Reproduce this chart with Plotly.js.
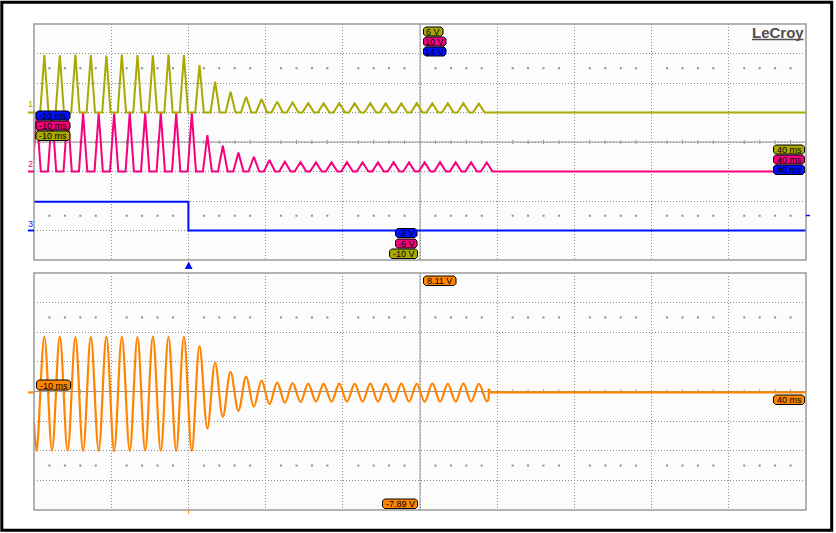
<!DOCTYPE html>
<html>
<head>
<meta charset="utf-8">
<script src="https://cdn.plot.ly/plotly-3.0.1.min.js"></script>
<style>html,body{margin:0;padding:0;background:#fff;}#chart{width:836px;height:533px;}</style>
</head>
<body>
<div id="chart"></div>
<script>
// ---------------- data (time in ms, values in V) ----------------
// Channel 1 (olive): peak times and peak voltages of each positive hump
const ch1PeakT = [-9.33,-8.33,-7.32,-6.32,-5.31,-4.31,-3.30,-2.30,-1.29,-0.29,0.72,1.73,2.73,3.74,4.74,5.75,6.75,7.76,8.76,9.77,10.77,11.78,12.78,13.79,14.79,15.80,16.80,17.81,18.81];
const ch1PeakV = [3.90,3.88,3.92,3.90,3.86,3.92,3.90,3.88,3.92,3.90,3.22,2.09,1.41,1.07,0.90,0.74,0.68,0.63,0.62,0.63,0.62,0.63,0.62,0.62,0.63,0.62,0.62,0.63,0.60];
const ch1HalfW = [0.27,0.27,0.27,0.27,0.27,0.27,0.27,0.27,0.27,0.27,0.28,0.30,0.32,0.34,0.36,0.37,0.38,0.38,0.38,0.38,0.38,0.38,0.38,0.38,0.38,0.38,0.38,0.38,0.38];
// Channel 2 (pink)
const ch2PeakT = [-9.83,-8.83,-7.82,-6.82,-5.81,-4.81,-3.80,-2.80,-1.79,-0.79,0.22,1.23,2.23,3.24,4.24,5.25,6.25,7.26,8.26,9.27,10.27,11.28,12.28,13.29,14.29,15.30,16.30,17.31,18.31,19.32];
const ch2PeakV = [3.95,3.93,3.96,3.94,3.95,3.93,3.96,3.94,3.95,3.93,3.95,2.47,1.75,1.28,1.00,0.78,0.66,0.63,0.62,0.62,0.63,0.62,0.62,0.63,0.62,0.62,0.63,0.62,0.62,0.61];
const ch2HalfW = [0.27,0.27,0.27,0.27,0.27,0.27,0.27,0.27,0.27,0.27,0.27,0.29,0.31,0.33,0.35,0.36,0.37,0.38,0.38,0.38,0.38,0.38,0.38,0.38,0.38,0.38,0.38,0.38,0.38,0.38];
// Channel 3 (blue): logic step at trigger
const ch3T = [-10, 0, 0, 40];
const ch3V = [1.95, 1.95, 0, 0];
// Math trace (orange): extrema of the oscillation, then the flat tail
const mathT = [-10,-9.83,-9.33,-8.83,-8.33,-7.82,-7.32,-6.82,-6.32,-5.81,-5.31,-4.81,-4.31,-3.80,-3.30,-2.80,-2.30,-1.79,-1.29,-0.79,-0.29,0.22,0.72,1.23,1.73,2.23,2.73,3.24,3.74,4.24,4.74,5.25,5.75,6.25,6.75,7.26,7.76,8.26,8.76,9.27,9.77,10.27,10.77,11.28,11.78,12.28,12.78,13.29,13.79,14.29,14.79,15.30,15.80,16.30,16.80,17.31,17.81,18.31,18.81,19.32,19.45];
const mathV = [-2.0,-3.90,3.80,-3.88,3.82,-3.90,3.78,-3.90,3.80,-3.88,3.82,-3.90,3.80,-3.90,3.78,-3.88,3.82,-3.90,3.80,-3.90,3.80,-3.88,3.18,-2.38,2.05,-1.59,1.43,-1.19,1.11,-0.92,0.84,-0.74,0.71,-0.65,0.67,-0.60,0.64,-0.58,0.63,-0.58,0.64,-0.58,0.63,-0.58,0.64,-0.58,0.63,-0.58,0.64,-0.58,0.63,-0.58,0.64,-0.58,0.63,-0.58,0.64,-0.58,0.63,-0.55,-0.42];
const mathTailT = [19.45, 19.45, 19.55, 40];
const mathTailV = [-0.42, 0.30, 0.05, 0.05];
// Scale labels
const timeLeft = '-10 ms', timeRight = '40 ms';
const ch1Range = [-10, 6], ch2Range = [-6, 10], ch3Range = [-2, 14], mathRange = [-7.89, 8.11];

// ---------------- helpers ----------------
const L = 34, R = 806, T = 24, B = 510;
const px = x => (x - L) / (R - L);
const py = y => (B - y) / (B - T);

function humps(ts, vs, ws) {
  const x = [], y = [];
  if (ts[0] - ws[0] > -10) { x.push(-10); y.push(0); }
  for (let i = 0; i < ts.length; i++) {
    x.push(ts[i] - ws[i], ts[i], ts[i] + ws[i]);
    y.push(0, vs[i], 0);
  }
  x.push(40); y.push(0);
  return {x, y};
}

const OLIVE = '#a9a900', PINK = '#f5007d', BLUE = '#0010ff', ORANGE = '#ff8400';
const h1 = humps(ch1PeakT, ch1PeakV, ch1HalfW);
const h2 = humps(ch2PeakT, ch2PeakV, ch2HalfW);

// grid dot rows (at +/-2.5 div from centre) and centre-line ticks
const dotT = [];
for (let t = -10; t <= 40; t += 1) { if (((t + 10) % 5) !== 0) dotT.push(t); }
const upDotX = [], upDotY = [], loDotX = [], loDotY = [];
const upC = (ch1Range[0] + ch1Range[1]) / 2, loC = (mathRange[0] + mathRange[1]) / 2;
dotT.forEach(t => {
  upDotX.push(t, t); upDotY.push(upC + 5, upC - 5);
  loDotX.push(t, t); loDotY.push(loC + 5, loC - 5);
});

const traces = [
  {x: upDotX, y: upDotY, xaxis: 'x', yaxis: 'y', mode: 'markers', marker: {size: 2, color: '#8c8c8c', symbol: 'square'}, hoverinfo: 'skip'},
  {x: loDotX, y: loDotY, xaxis: 'x2', yaxis: 'y4', mode: 'markers', marker: {size: 2, color: '#8c8c8c', symbol: 'square'}, hoverinfo: 'skip'},
  {x: ch3T, y: ch3V, xaxis: 'x', yaxis: 'y3', mode: 'lines', line: {color: BLUE, width: 2}},
  {x: h2.x, y: h2.y, xaxis: 'x', yaxis: 'y2', mode: 'lines', line: {color: PINK, width: 2}},
  {x: h1.x, y: h1.y, xaxis: 'x', yaxis: 'y', mode: 'lines', line: {color: OLIVE, width: 2}},
  {x: mathT, y: mathV, xaxis: 'x2', yaxis: 'y4', mode: 'lines', line: {color: ORANGE, width: 2.2, shape: 'spline', smoothing: 1}},
  {x: mathTailT, y: mathTailV, xaxis: 'x2', yaxis: 'y4', mode: 'lines', line: {color: ORANGE, width: 2.2}}
];

const GRID = '#8c8c8c', BORDER = '#9a9a9a';
const shapes = [];
// panel borders
shapes.push({type: 'rect', xref: 'paper', yref: 'paper', x0: px(34), x1: px(806), y0: py(24), y1: py(260), line: {color: BORDER, width: 1.5}});
shapes.push({type: 'rect', xref: 'paper', yref: 'paper', x0: px(34), x1: px(806), y0: py(273), y1: py(510), line: {color: BORDER, width: 1.5}});
// centre cross lines
shapes.push({type: 'line', layer: 'below', xref: 'x', yref: 'y domain', x0: 15, x1: 15, y0: 0, y1: 1, line: {color: BORDER, width: 1}});
shapes.push({type: 'line', layer: 'below', xref: 'x domain', yref: 'y', x0: 0, x1: 1, y0: upC, y1: upC, line: {color: BORDER, width: 1}});
shapes.push({type: 'line', layer: 'below', xref: 'x2', yref: 'y4 domain', x0: 15, x1: 15, y0: 0, y1: 1, line: {color: BORDER, width: 1}});
shapes.push({type: 'line', layer: 'below', xref: 'x2 domain', yref: 'y4', x0: 0, x1: 1, y0: loC, y1: loC, line: {color: BORDER, width: 1}});
dotT.forEach(t => {
  shapes.push({type: 'line', layer: 'below', xref: 'x', yref: 'y', x0: t, x1: t, y0: upC - 0.14, y1: upC + 0.14, line: {color: BORDER, width: 1}});
  shapes.push({type: 'line', layer: 'below', xref: 'x2', yref: 'y4', x0: t, x1: t, y0: loC - 0.14, y1: loC + 0.14, line: {color: BORDER, width: 1}});
});
// outer black frame
shapes.push({type: 'rect', xref: 'paper', yref: 'paper', x0: px(1.8), x1: px(831.7), y0: py(2.2), y1: py(530.2), line: {color: '#000', width: 3}});
// channel ground markers
[['y', 0, OLIVE], ['y2', 0, PINK], ['y3', 0, BLUE], ['y4', 0.05, ORANGE]].forEach(m => {
  shapes.push({type: 'line', xref: 'paper', yref: m[0], x0: px(28), x1: px(34), y0: m[1], y1: m[1], line: {color: m[2], width: 2}});
});
// trigger marker and small ticks
shapes.push({type: 'path', xref: 'paper', yref: 'paper', path: `M ${px(184.8)} ${py(269)} L ${px(192.6)} ${py(269)} L ${px(188.7)} ${py(261.5)} Z`, fillcolor: BLUE, line: {width: 0}});
shapes.push({type: 'line', xref: 'paper', yref: 'paper', x0: px(188.7), x1: px(188.7), y0: py(510), y1: py(514), line: {color: ORANGE, width: 1}});
shapes.push({type: 'line', xref: 'paper', yref: 'paper', x0: px(806), x1: px(810), y0: py(215.5), y1: py(215.5), line: {color: BLUE, width: 1.5}});
// LeCroy underline
shapes.push({type: 'line', xref: 'paper', yref: 'paper', x0: px(752), x1: px(803.5), y0: py(39.5), y1: py(39.5), line: {color: '#505050', width: 1.6}});

const annotations = [];
function tag(text, fill, x0, y0, x1, y1) {
  const r = 2;
  const p = `M ${px(x0 + r)} ${py(y0)} L ${px(x1 - r)} ${py(y0)} L ${px(x1)} ${py(y0 + r)} L ${px(x1)} ${py(y1 - r)} L ${px(x1 - r)} ${py(y1)} L ${px(x0 + r)} ${py(y1)} L ${px(x0)} ${py(y1 - r)} L ${px(x0)} ${py(y0 + r)} Z`;
  shapes.push({type: 'path', xref: 'paper', yref: 'paper', path: p, fillcolor: fill, line: {color: '#000', width: 1}});
  annotations.push({text: text, xref: 'paper', yref: 'paper', x: px((x0 + x1) / 2), y: py((y0 + y1) / 2 + 0.5), xanchor: 'center', yanchor: 'middle', showarrow: false, font: {family: 'Liberation Sans, Arial, sans-serif', size: 9, color: '#000'}});
}
tag(ch1Range[1] + ' V', OLIVE, 423.5, 27, 443, 36);
tag(ch2Range[1] + ' V', PINK, 423.5, 37, 446, 46);
tag(ch3Range[1] + ' V', BLUE, 423.5, 47, 446, 56);
tag(timeLeft, BLUE, 36, 111, 70, 120);
tag(timeLeft, PINK, 36, 121, 70, 130);
tag(timeLeft, OLIVE, 36, 131, 70, 140.5);
tag(timeRight, OLIVE, 773.5, 145, 804.5, 154);
tag(timeRight, PINK, 773.5, 155, 804.5, 164);
tag(timeRight, BLUE, 773.5, 165, 804.5, 174.5);
tag(ch3Range[0] + ' V', BLUE, 395.5, 228.5, 417, 237.5);
tag(ch2Range[0] + ' V', PINK, 395.5, 239, 417, 248);
tag(ch1Range[0] + ' V', OLIVE, 389.5, 249, 417.5, 258.5);
tag(mathRange[1].toFixed(2) + ' V', ORANGE, 423.5, 276, 456, 285.5);
tag(mathRange[0].toFixed(2) + ' V', ORANGE, 382.5, 499, 417.5, 508.5);
tag(timeLeft, ORANGE, 36.5, 380, 70.5, 390);
tag(timeRight, ORANGE, 773.5, 395, 804.5, 404.5);

// channel numbers
[['1', 104, OLIVE], ['2', 164, PINK], ['3', 223.5, BLUE]].forEach(c => {
  annotations.push({text: c[0], xref: 'paper', yref: 'paper', x: px(30.5), y: py(c[1]), xanchor: 'center', yanchor: 'middle', showarrow: false, font: {family: 'Liberation Sans, Arial, sans-serif', size: 9, color: c[2]}});
});
// logo
annotations.push({text: '<b>LeCroy</b>', xref: 'paper', yref: 'paper', x: px(777.8), y: py(32.5), xanchor: 'center', yanchor: 'middle', showarrow: false, font: {family: 'Liberation Sans, Arial, sans-serif', size: 15, color: '#505050'}});

const hiddenY = r => ({range: r, overlaying: 'y', anchor: 'x', visible: false, fixedrange: true});
const layout = {
  width: 836, height: 533,
  margin: {l: L, r: 836 - R, t: T, b: 533 - B, pad: 0},
  paper_bgcolor: '#ffffff', plot_bgcolor: '#fcfcfc',
  showlegend: false, hovermode: false,
  font: {family: 'Liberation Sans, Arial, sans-serif'},
  xaxis: {domain: [0, 1], anchor: 'y', range: [-10, 40], tick0: -10, dtick: 5, showgrid: true, gridcolor: GRID, griddash: '1px,2px', gridwidth: 1, zeroline: false, showticklabels: false, ticks: '', showline: false},
  xaxis2: {domain: [0, 1], anchor: 'y4', matches: 'x', range: [-10, 40], tick0: -10, dtick: 5, showgrid: true, gridcolor: GRID, griddash: '1px,2px', gridwidth: 1, zeroline: false, showticklabels: false, ticks: '', showline: false},
  yaxis: {domain: [py(260), 1], anchor: 'x', range: ch1Range, tick0: ch1Range[0], dtick: 2, showgrid: true, gridcolor: GRID, griddash: '1px,2px', gridwidth: 1, zeroline: false, showticklabels: false, ticks: '', showline: false},
  yaxis2: hiddenY(ch2Range),
  yaxis3: hiddenY(ch3Range),
  yaxis4: {domain: [0, py(273)], anchor: 'x2', range: mathRange, tick0: mathRange[0], dtick: 2, showgrid: true, gridcolor: GRID, griddash: '1px,2px', gridwidth: 1, zeroline: false, showticklabels: false, ticks: '', showline: false},
  shapes: shapes,
  annotations: annotations
};

Plotly.newPlot('chart', traces, layout, {staticPlot: true, displayModeBar: false});
</script>
</body>
</html>
